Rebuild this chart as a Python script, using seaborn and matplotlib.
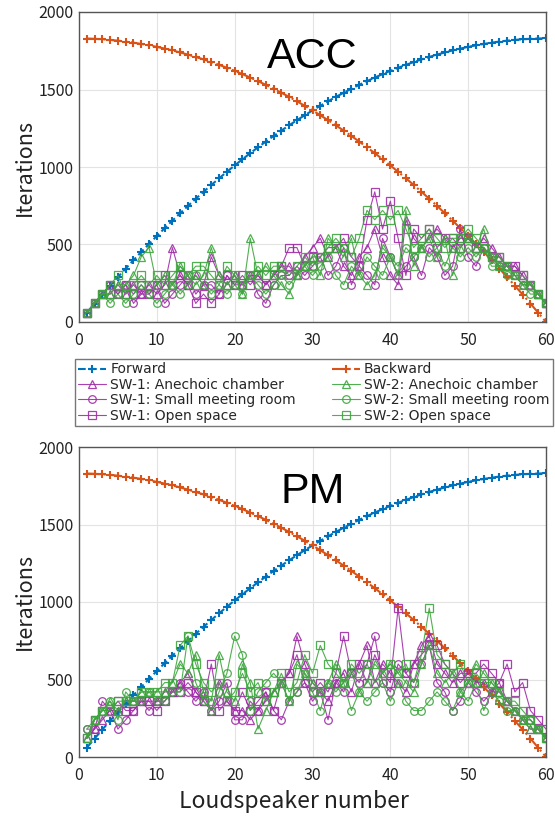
import numpy as np
import pandas as pd
import matplotlib
matplotlib.use("Agg")
import matplotlib.pyplot as plt
import seaborn as sns

speakers = list(range(1, 61))

forward = [60, 119, 177, 234, 290, 345, 399, 452, 504, 555,
           605, 654, 702, 749, 795, 840, 884, 927, 969, 1010,
           1050, 1089, 1127, 1164, 1200, 1235, 1269, 1302, 1334, 1365,
           1395, 1424, 1452, 1479, 1505, 1530, 1554, 1577, 1599, 1620,
           1640, 1659, 1677, 1694, 1710, 1725, 1739, 1752, 1764, 1775,
           1785, 1794, 1802, 1809, 1815, 1820, 1824, 1827, 1829, 1830]
backward = [1829, 1827, 1824, 1820, 1815, 1809, 1802, 1794, 1785, 1775,
            1764, 1752, 1739, 1725, 1710, 1694, 1677, 1659, 1640, 1620,
            1599, 1577, 1554, 1530, 1505, 1479, 1452, 1424, 1395, 1365,
            1334, 1302, 1269, 1235, 1200, 1164, 1127, 1089, 1050, 1010,
            969, 927, 884, 840, 795, 749, 702, 654, 605, 555,
            504, 452, 399, 345, 290, 234, 177, 119, 60, 0]

# ACC panel
acc_sw1_anechoic = [60, 120, 180, 180, 240, 180, 240, 180, 240, 180,
                    240, 480, 300, 240, 300, 240, 420, 300, 240, 300,
                    240, 300, 300, 240, 300, 360, 360, 300, 420, 480,
                    540, 420, 480, 360, 300, 420, 480, 600, 420, 300,
                    240, 660, 540, 480, 540, 600, 540, 480, 540, 540,
                    480, 540, 480, 420, 360, 360, 300, 240, 180, 120]
acc_sw1_meeting = [60, 120, 180, 240, 180, 240, 120, 180, 180, 240,
                   120, 180, 240, 300, 180, 240, 240, 180, 300, 240,
                   240, 300, 180, 120, 240, 300, 300, 360, 300, 360,
                   420, 300, 360, 480, 240, 360, 300, 240, 540, 420,
                   300, 360, 420, 300, 480, 420, 300, 360, 600, 420,
                   360, 480, 420, 360, 360, 300, 240, 240, 180, 120]
acc_sw1_open = [60, 120, 180, 240, 180, 240, 180, 240, 180, 240,
                300, 240, 300, 240, 120, 180, 120, 180, 300, 240,
                300, 240, 300, 240, 300, 360, 480, 480, 360, 420,
                420, 480, 480, 540, 420, 360, 660, 840, 600, 780,
                540, 300, 600, 540, 600, 480, 540, 540, 480, 540,
                480, 480, 420, 420, 360, 360, 300, 240, 180, 120]
acc_sw2_anechoic = [60, 120, 180, 180, 240, 240, 300, 420, 480, 240,
                    300, 240, 360, 300, 240, 300, 480, 300, 240, 300,
                    180, 540, 300, 360, 300, 240, 180, 300, 360, 420,
                    300, 540, 480, 420, 540, 300, 240, 300, 480, 420,
                    300, 720, 360, 480, 540, 420, 540, 300, 480, 540,
                    480, 600, 420, 360, 360, 300, 240, 240, 180, 120]
acc_sw2_meeting = [60, 120, 180, 120, 180, 120, 180, 240, 180, 120,
                   180, 240, 180, 240, 300, 240, 180, 240, 180, 240,
                   180, 300, 240, 180, 240, 300, 240, 300, 360, 300,
                   360, 420, 300, 240, 360, 300, 420, 360, 300, 420,
                   360, 480, 420, 480, 420, 480, 360, 480, 420, 480,
                   420, 480, 360, 360, 300, 300, 240, 180, 180, 120]
acc_sw2_open = [60, 120, 180, 240, 300, 180, 240, 300, 240, 300,
                240, 300, 360, 300, 360, 360, 300, 240, 360, 300,
                240, 300, 360, 300, 360, 360, 300, 360, 420, 360,
                420, 480, 540, 480, 420, 540, 720, 660, 720, 660,
                720, 600, 480, 540, 600, 540, 480, 540, 540, 600,
                540, 480, 420, 420, 360, 300, 300, 240, 180, 120]

# PM panel
pm_sw1_anechoic = [120, 180, 240, 300, 300, 360, 360, 360, 360, 360,
                   420, 420, 480, 540, 420, 360, 300, 480, 360, 300,
                   300, 240, 300, 360, 420, 480, 540, 780, 600, 480,
                   420, 360, 480, 540, 420, 600, 720, 480, 600, 540,
                   480, 420, 600, 720, 780, 600, 540, 480, 540, 540,
                   480, 480, 420, 420, 360, 300, 240, 180, 180, 120]
pm_sw1_meeting = [180, 180, 360, 300, 180, 240, 300, 360, 300, 360,
                  360, 420, 480, 420, 360, 420, 300, 360, 480, 240,
                  240, 360, 300, 420, 300, 240, 360, 420, 480, 360,
                  420, 240, 480, 420, 540, 480, 600, 780, 480, 420,
                  600, 540, 480, 600, 720, 480, 420, 300, 360, 480,
                  420, 360, 420, 480, 360, 300, 240, 240, 180, 120]
pm_sw1_open = [120, 240, 300, 300, 360, 300, 300, 360, 360, 300,
               360, 420, 420, 480, 420, 360, 600, 300, 360, 300,
               420, 300, 360, 420, 300, 480, 540, 660, 480, 420,
               480, 420, 540, 780, 540, 600, 480, 660, 540, 480,
               960, 540, 600, 660, 720, 720, 600, 540, 480, 540,
               540, 600, 540, 480, 600, 420, 480, 300, 240, 180]
pm_sw2_anechoic = [120, 240, 300, 360, 300, 360, 360, 420, 420, 420,
                   420, 480, 600, 540, 660, 420, 360, 660, 420, 360,
                   600, 480, 180, 300, 420, 480, 360, 600, 540, 480,
                   420, 480, 600, 480, 540, 420, 480, 600, 540, 600,
                   540, 480, 420, 600, 720, 540, 480, 540, 420, 480,
                   600, 540, 480, 420, 360, 300, 240, 180, 180, 120]
pm_sw2_meeting = [180, 240, 300, 360, 240, 420, 360, 360, 420, 360,
                  360, 420, 420, 780, 480, 360, 300, 420, 540, 780,
                  660, 300, 420, 480, 540, 480, 360, 420, 540, 420,
                  300, 480, 420, 480, 300, 420, 360, 420, 480, 360,
                  480, 360, 300, 300, 360, 420, 360, 300, 420, 360,
                  480, 300, 420, 360, 300, 300, 240, 240, 180, 120]
pm_sw2_open = [120, 240, 300, 300, 360, 360, 360, 420, 420, 420,
               480, 480, 720, 780, 600, 480, 420, 480, 360, 420,
               540, 420, 480, 360, 420, 540, 420, 480, 660, 540,
               720, 600, 540, 480, 600, 540, 600, 480, 540, 600,
               540, 600, 480, 660, 960, 660, 600, 540, 600, 480,
               540, 480, 480, 420, 360, 360, 300, 240, 180, 120]

x_ticks = [0, 10, 20, 30, 40, 50, 60]
y_ticks = [0, 500, 1000, 1500, 2000]
panel_titles = ["ACC", "PM"]
labels = ["Forward", "Backward",
          "SW-1: Anechoic chamber", "SW-1: Small meeting room", "SW-1: Open space",
          "SW-2: Anechoic chamber", "SW-2: Small meeting room", "SW-2: Open space"]

sns.set_theme(style="whitegrid")
plt.rcParams['font.family'] = ['Noto Sans CJK JP', 'DejaVu Sans']

BLUE = "#0072BD"
ORANGE = "#D95319"
PURPLE = "#A02CA8"
GREEN = "#3DA63D"

fig = plt.figure(figsize=(5.55, 8.16), dpi=100)
ax_top = fig.add_axes([79/555, 1-322/816, 467/555, 310/816])
ax_bot = fig.add_axes([79/555, 1-757/816, 467/555, 310/816])

panels = [
    (ax_top, [acc_sw1_anechoic, acc_sw1_meeting, acc_sw1_open,
              acc_sw2_anechoic, acc_sw2_meeting, acc_sw2_open]),
    (ax_bot, [pm_sw1_anechoic, pm_sw1_meeting, pm_sw1_open,
              pm_sw2_anechoic, pm_sw2_meeting, pm_sw2_open]),
]
markers = ["^", "o", "s", "^", "o", "s"]
colors = [PURPLE, PURPLE, PURPLE, GREEN, GREEN, GREEN]

handles = None
for i, (ax, series) in enumerate(panels):
    df_f = pd.DataFrame({"x": speakers, "y": forward})
    sns.lineplot(data=df_f, x="x", y="y", ax=ax, color=BLUE, linestyle="--",
                 linewidth=1.5, marker="+", markersize=6, markeredgewidth=1.5,
                 markeredgecolor=BLUE, markerfacecolor=BLUE,
                 label=labels[0], legend=False)
    df_b = pd.DataFrame({"x": speakers, "y": backward})
    sns.lineplot(data=df_b, x="x", y="y", ax=ax, color=ORANGE, linestyle="-.",
                 linewidth=1.5, marker="+", markersize=6, markeredgewidth=1.5,
                 markeredgecolor=ORANGE, markerfacecolor=ORANGE,
                 label=labels[1], legend=False)
    for j, s in enumerate(series):
        df = pd.DataFrame({"x": speakers, "y": s})
        sns.lineplot(data=df, x="x", y="y", ax=ax, color=colors[j], linewidth=0.8,
                     marker=markers[j], markersize=5.5, markerfacecolor="none",
                     markeredgecolor=colors[j], markeredgewidth=0.9,
                     label=labels[2 + j], legend=False, alpha=0.9)
    ax.set_xlim(0, 60)
    ax.set_ylim(0, 2000)
    ax.set_xticks(x_ticks)
    ax.set_yticks(y_ticks)
    ax.tick_params(axis="both", labelsize=11.5, colors="#222222", direction="in",
                   length=4, pad=4)
    ax.tick_params(axis="x", pad=7)
    ax.grid(True, color="#e3e3e3", linewidth=0.8)
    for sp in ax.spines.values():
        sp.set_visible(True)
        sp.set_color("#555555")
        sp.set_linewidth(1.0)
    ax.set_ylabel("Iterations", fontsize=15.5, color="#222222", labelpad=2)
    ax.set_xlabel("")
    ax.text(30, 1639, panel_titles[i], fontsize=31, ha="center", va="baseline",
            color="black", family=["Liberation Sans", "DejaVu Sans"])
    if i == 0:
        hl, ll = ax.get_legend_handles_labels()
        handles = dict(zip(ll, hl))

ax_bot.set_xlabel("Loudspeaker number", fontsize=16.5, color="#222222")
ax_bot.xaxis.set_label_coords((294 - 79) / 467, -0.105)

order = ["Forward", "SW-1: Anechoic chamber", "SW-1: Small meeting room", "SW-1: Open space",
         "Backward", "SW-2: Anechoic chamber", "SW-2: Small meeting room", "SW-2: Open space"]
leg = fig.legend([handles[k] for k in order], order, ncol=2, loc="lower left",
                 bbox_to_anchor=(75/555, 1-426/816, 478/555, 70/816), mode="expand",
                 prop={"family": ["DejaVu Sans"], "size": 10},
                 frameon=True, fancybox=False, borderpad=0.25,
                 labelspacing=0.1, handlelength=2.0, handletextpad=0.3,
                 columnspacing=0.3, borderaxespad=0)
leg.get_frame().set_edgecolor("#555555")
leg.get_frame().set_linewidth(1.0)

fig.savefig("out.png", dpi=100)
